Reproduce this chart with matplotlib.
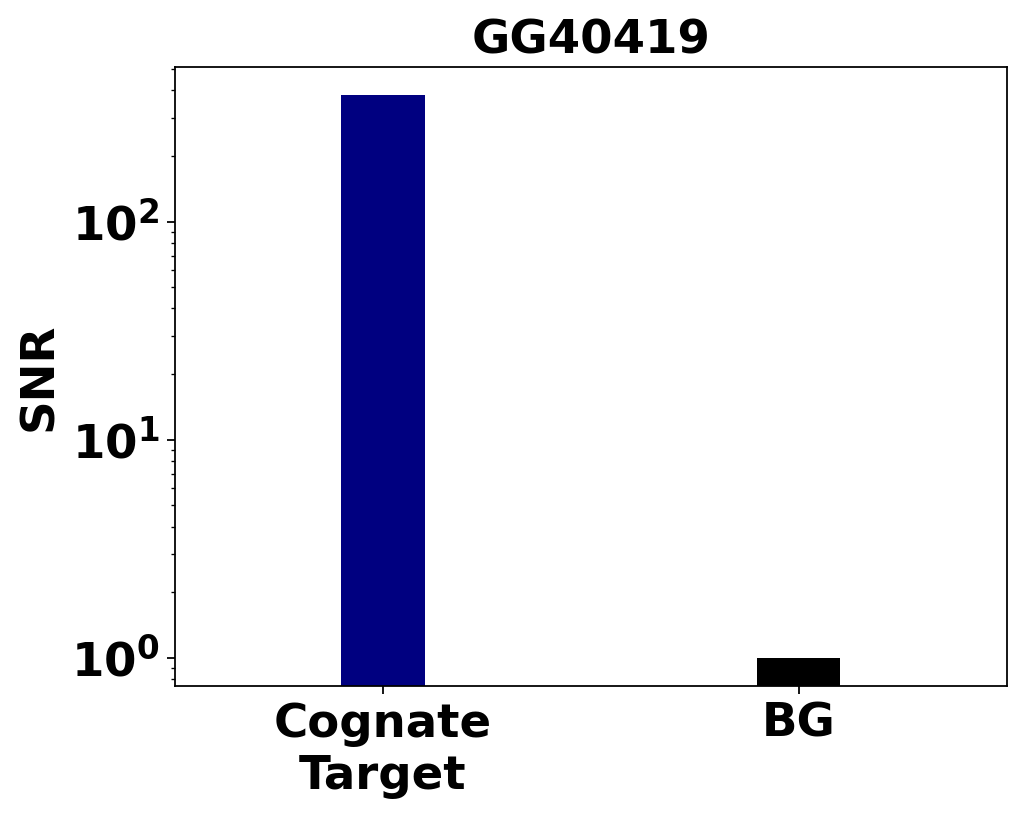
import matplotlib
matplotlib.use("Agg")
import matplotlib.pyplot as plt

# Data
categories = ["Cognate\nTarget", "BG"]
snr_values = [381, 1.0]
bar_colors = ["navy", "black"]
title = "GG40419"

fig = plt.figure(figsize=(6.4, 5.1125), dpi=160)
ax = fig.add_axes([0.171, 0.1614, 0.812, 0.7568])

positions = list(range(len(categories)))
ax.bar(positions, snr_values, width=0.2, color=bar_colors)
ax.set_yscale("log")
ax.set_xlim(-0.5, 1.5)

ax.set_xticks(positions)
ax.set_xticklabels(categories, fontsize=21, fontweight="bold")
ax.tick_params(axis="y", labelsize=21)
plt.setp(ax.get_yticklabels(), fontweight="bold")
ax.set_ylabel("SNR", fontsize=21, fontweight="bold")
ax.set_title(title, fontsize=21, fontweight="bold")

fig.savefig("out.png", dpi=160)
